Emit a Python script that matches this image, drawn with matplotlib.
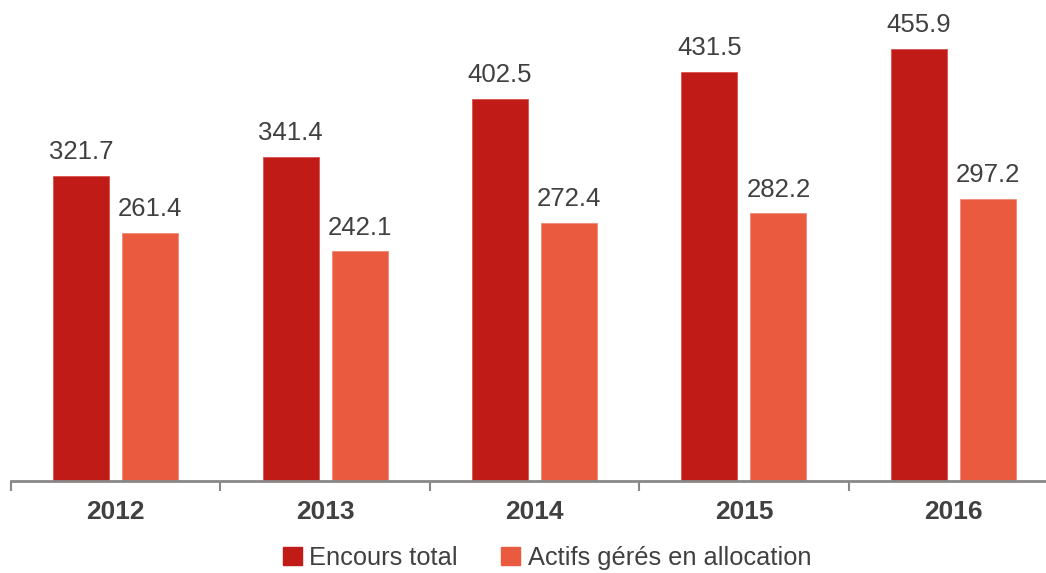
import matplotlib
matplotlib.use("Agg")
import matplotlib.pyplot as plt
import numpy as np
from matplotlib.patches import Patch

years = ["2012", "2013", "2014", "2015", "2016"]
encours_total = [321.7, 341.4, 402.5, 431.5, 455.9]
actifs_alloc = [261.4, 242.1, 272.4, 282.2, 297.2]
series_names = ["Encours total", "Actifs gérés en allocation"]

RED = "#C11B17"
ORANGE = "#E95A3F"
TXT = "#404040"
AX = "#888888"

plt.rcParams['font.family'] = ['Liberation Sans', 'DejaVu Sans']

fig = plt.figure(figsize=(10.46, 5.73), dpi=100)
ax = fig.add_axes([11/1046, 92/573, 1047/1046, 481/573])

x = np.arange(len(years))
w = 0.267
off = 0.165
b1 = ax.bar(x - off, encours_total, w, color=RED, edgecolor="#D9534F", linewidth=0.6)
b2 = ax.bar(x + off, actifs_alloc, w, color=ORANGE, edgecolor="#F08A75", linewidth=0.6)

for bars, vals in ((b1, encours_total), (b2, actifs_alloc)):
    for r, v in zip(bars, vals):
        ax.annotate(f"{v:.1f}", (r.get_x() + r.get_width()/2, v),
                    xytext=(0, 12.2), textcoords="offset points",
                    ha="center", va="baseline", fontsize=18.5, color=TXT)

ax.set_xlim(-0.5, 4.5)
ax.set_ylim(0, 507.4)
ax.set_yticks([])
for s in ("top", "right", "left"):
    ax.spines[s].set_visible(False)
ax.spines["bottom"].set_color(AX)
ax.spines["bottom"].set_linewidth(2)

ax.set_xticks(x)
ax.set_xticklabels(years, fontsize=19, fontweight="bold", color=TXT)
ax.tick_params(axis="x", which="major", length=0, pad=14)
ax.set_xticks(np.arange(-0.5, 5.0, 1.0), minor=True)
ax.tick_params(axis="x", which="minor", length=7, width=1.5, color=AX, direction="out")

handles = [Patch(facecolor=RED, edgecolor=RED), Patch(facecolor=ORANGE, edgecolor=ORANGE)]
fig.legend(handles, series_names, loc="center", bbox_to_anchor=(547/1046, 1 - 558/573),
           ncol=2, frameon=False, fontsize=18.3, labelcolor=TXT,
           handlelength=0.75, handleheight=0.75, handletextpad=0.3, columnspacing=1.7)

fig.savefig("out.png", dpi=100)
